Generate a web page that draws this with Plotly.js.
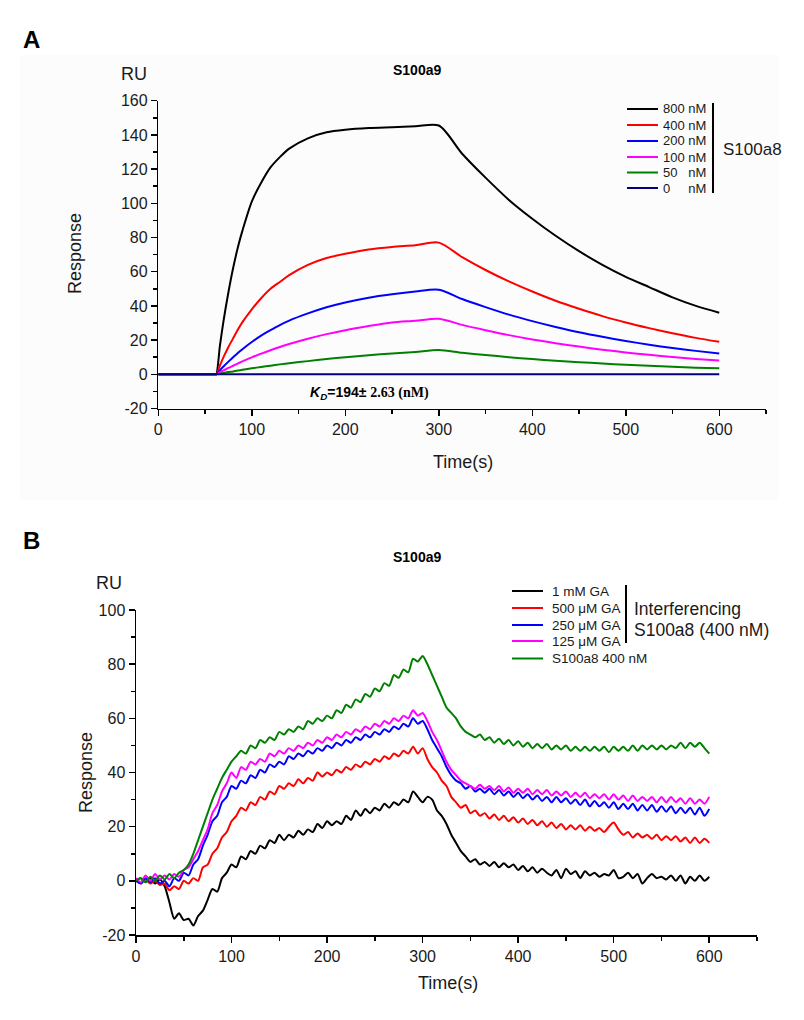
<!DOCTYPE html>
<html>
<head>
<meta charset="utf-8">
<script src="https://cdn.plot.ly/plotly-3.0.1.min.js"></script>
<style>
  body { margin:0; padding:0; background:#fff; }
  #plotDiv { width:804px; height:1020px; }
</style>
</head>
<body>
<div id="plotDiv"></div>
<script>
// ---- panel A : fitted SPR curves ----
var timeA = [0, 30, 61, 62, 66, 70, 75, 80, 85, 90, 100, 110, 120, 130, 140, 160, 180, 200, 225, 250, 275, 300,
             325, 350, 375, 400, 425, 450, 475, 500, 525, 550, 575, 600];
var a800 = [0, 0, 0, 0, 17, 32, 48, 62, 74, 84, 101, 112, 121, 127, 132, 138, 141.5, 143, 144, 144.5, 145, 145.5,
            129, 115, 102, 91, 81, 72, 64, 57, 51, 45, 40, 36];
var a400 = [0, 0, 0, 0, 5.3, 10.3, 16, 21, 26, 30.5, 38, 44.5, 50, 54, 58, 64, 68, 70.5, 73, 74.5, 75.5, 77,
            68.5, 61, 54.3, 48.4, 43, 38.3, 34, 30.3, 27, 24, 21.3, 19];
var a200 = [0, 0, 0, 0, 2.4, 4.7, 7.4, 10, 12.4, 14.7, 18.9, 22.6, 25.8, 28.8, 31.4, 35.6, 39.2, 42, 44.8, 46.8, 48.4, 49.5,
            44, 39.3, 34.9, 31.1, 27.7, 24.6, 21.9, 19.5, 17.3, 15.4, 13.7, 12.2];
var a100 = [0, 0, 0, 0, 1.2, 2.3, 3.7, 5, 6.3, 7.6, 9.9, 12.1, 14.1, 16, 17.7, 20.8, 23.5, 25.8, 28.2, 30.3, 31.3, 32.5,
            28.9, 25.8, 22.9, 20.4, 18.2, 16.2, 14.4, 12.8, 11.4, 10.1, 9, 8];
var a50 = [0, 0, 0, 0, 0.4, 0.8, 1.3, 1.7, 2.2, 2.6, 3.5, 4.3, 5, 5.8, 6.5, 7.7, 8.9, 10, 11.1, 12.2, 13.1, 14.2,
           12.6, 11.3, 10, 8.9, 7.9, 7.1, 6.3, 5.6, 5, 4.4, 3.9, 3.5];
var timeA0 = [0, 600];
var a0 = [0, 0];
var namesA = ['800 nM', '400 nM', '200 nM', '100 nM', '50\u00a0\u00a0\u00a0nM', '0\u00a0\u00a0\u00a0\u00a0\u00a0nM'];
var colorsA = ['#000000', '#ff0000', '#0000ff', '#ff00ff', '#008000', '#000080'];
var ticksA = [-20, 0, 20, 40, 60, 80, 100, 120, 140, 160];
var tickTextA = ['-20', '0', '20', '40', '60', '80', '100', '120', '140', '160'];

// ---- panel B : raw sensorgrams, one value every 5 s ----
var timeB = [0, 5, 10, 15, 20, 25, 30, 35, 40, 45, 50, 55, 60, 65, 70, 75, 80, 85, 90, 95,
             100, 105, 110, 115, 120, 125, 130, 135, 140, 145, 150, 155, 160, 165, 170, 175, 180, 185, 190, 195,
             200, 205, 210, 215, 220, 225, 230, 235, 240, 245, 250, 255, 260, 265, 270, 275, 280, 285, 290, 295,
             300, 305, 310, 315, 320, 325, 330, 335, 340, 345, 350, 355, 360, 365, 370, 375, 380, 385, 390, 395,
             400, 405, 410, 415, 420, 425, 430, 435, 440, 445, 450, 455, 460, 465, 470, 475, 480, 485, 490, 495,
             500, 505, 510, 515, 520, 525, 530, 535, 540, 545, 550, 555, 560, 565, 570, 575, 580, 585, 590, 595,
             600];
var ga1mM = [0, 1, -0.5, 1, -1, 0.5, -2, -8, -14, -12, -14.5, -14, -16.5, -13, -11, -7, -3, -4, 1, 3,
             6, 5, 9, 8, 11, 10, 13, 12, 15, 14, 17, 15, 17, 16, 18.5, 17, 19, 18, 21, 19.5,
             22, 20.5, 22, 21, 24, 22.5, 26, 24, 26.5, 25, 27, 26, 28.5, 27, 29, 28, 30, 29, 33, 31,
             29, 31, 30, 26, 24, 21, 17, 14, 11, 9, 7, 8, 6, 7, 5.5, 7, 5, 6.5, 5, 6,
             4, 5.5, 3.5, 5, 3, 4.5, 3, 2, 4, 1, 4.5, 2.5, 3.5, 1, 3.5, 2, 3, 1.5, 2.5, 2,
             4, 1, 1.5, 3, 1, 2.5, -1, 1, 2.5, 1, 1.5, 0.5, 2, 0, 2, -1, 1.5, 0, 2, 0,
             1.5];
var ga500 = [0, -1, 0.5, -1, 0, -1.5, -1, -3.5, -2, -3, 0, -1, 1, 0, 5, 6, 10, 12, 16, 18,
             22, 24, 27, 26, 29, 28, 31, 30, 33, 32, 35, 34, 36, 35, 37.5, 36, 38, 37, 40, 38.5,
             40, 39, 41, 40, 42, 41, 43, 42, 44, 43, 45, 44, 46, 45, 47, 46, 48, 47, 49.5, 47,
             49, 45, 42, 40, 37, 35, 31, 29, 27, 28, 25, 26, 24, 25, 23, 24.5, 22.5, 24, 22, 23.5,
             21.5, 23, 21, 22.5, 20.5, 22, 20, 21.5, 19.5, 21, 19, 20.5, 19, 20.5, 18.5, 20, 18.5, 19.5, 18, 20,
             21.5, 19, 17, 18, 16, 17.5, 16, 17, 15.5, 17, 15, 16.5, 15, 16.5, 14.5, 16, 14, 16, 14, 15.5,
             14];
var ga250 = [0, -1, 1, -0.5, 1, -1, 0, -2, 1, 0, 3, 2, 6, 8, 13, 17, 22, 24, 29, 31,
             35, 34, 37, 36, 39, 38, 41, 40, 43, 42, 44, 43, 46, 45, 47, 46, 48, 47, 49, 48,
             50, 49, 51, 50, 52, 51, 53, 52, 54, 53, 55, 54, 56, 55, 57, 56, 58, 57, 60, 58,
             59, 56, 52, 49, 46, 42, 39, 37, 36, 34, 35, 33, 34, 32.5, 34, 32, 33.5, 31.5, 33, 31,
             32.5, 30.5, 32, 30, 31.5, 29.5, 31, 29, 31, 29, 30.5, 28.5, 30, 28, 30, 27.5, 29.5, 27.5, 29, 27,
             29, 26.5, 28.5, 26.5, 28.5, 26, 28, 26, 28, 25.5, 27.5, 25.5, 27.5, 25, 27, 25, 27, 24.5, 27, 24,
             26.5];
var ga125 = [1, -0.5, 2, 0, 2.5, 0.5, 2, 0.5, 2.5, 1.5, 4, 5, 8, 11, 15, 19, 25, 28, 33, 36,
             40, 38, 42, 41, 44, 43, 45, 44, 47, 46, 48, 47, 49, 48, 50, 49, 51, 50, 52, 51,
             53, 52, 54, 53, 55, 54, 56, 55, 57, 56, 58, 57, 59, 58, 60, 59, 61, 60, 63, 61,
             62, 59, 55, 52, 48, 44, 41, 39, 37, 36, 35, 34, 35.5, 34, 35, 33.5, 35, 33, 34.5, 32.5,
             34, 32.5, 34, 32, 33.5, 32, 33.5, 31.5, 33, 31.5, 33, 31, 32.5, 31, 32.5, 30.5, 32, 30.5, 32, 30,
             32, 30, 31.5, 29.5, 31.5, 29.5, 31, 29.5, 31, 29, 31, 29, 31, 29, 30.5, 28.5, 30.5, 28.5, 30, 28.5,
             31];
var s400 = [0, 1, -0.5, 1.5, 0, 2, 0.5, 2.5, 1, 3, 4, 6, 10, 15, 20, 25, 30, 34, 38, 41,
            44, 46, 48, 47, 50, 49, 52, 51, 53, 52, 55, 54, 56, 55, 57, 56, 59, 58, 60, 59,
            61, 60, 63, 62, 65, 64, 67, 66, 69, 68, 71, 70, 73, 72, 76, 75, 78, 77, 82, 81,
            83, 80, 76, 72, 68, 64, 62, 60, 57, 55, 54, 53, 54, 52, 53, 51, 52.5, 50.5, 52, 50,
            51.5, 49.5, 51, 49, 50.5, 49, 50.5, 48.5, 50, 48.5, 50, 48, 49.5, 48, 49.5, 48, 49.5, 48, 49.5, 47.5,
            49.5, 48, 49.5, 48, 50, 48, 50, 48.5, 50, 48.5, 50, 48.5, 50, 49, 51, 49, 51, 49.5, 51, 49,
            47];
var namesB = ['1 mM GA', '500 \u03bcM GA', '250 \u03bcM GA', '125 \u03bcM GA', 'S100a8 400 nM'];
var colorsB = ['#000000', '#ff0000', '#0000ff', '#ff00ff', '#008000'];
var ticksB = [-20, 0, 20, 40, 60, 80, 100];
var tickTextB = ['-20', '0', '20', '40', '60', '80', '100'];

var W = 804, H = 1020;
function px(x){ return x / W; }
function py(y){ return 1 - y / H; }

function makePlot(){
  var fA = 'Arial, Liberation Sans, sans-serif';
  var data = [];
  var shapes = [];
  var ann = [];

  var seriesA = [a800, a400, a200, a100, a50];
  for (var i = 0; i < seriesA.length; i++){
    data.push({
      x: timeA, y: seriesA[i], name: namesA[i], type: 'scatter', mode: 'lines',
      line: {color: colorsA[i], width: 2, shape: 'spline', smoothing: 0.8}, xaxis: 'x', yaxis: 'y'
    });
  }
  data.push({
    x: timeA0, y: a0, name: namesA[5], type: 'scatter', mode: 'lines',
    line: {color: colorsA[5], width: 2}, xaxis: 'x', yaxis: 'y'
  });

  var seriesB = [ga1mM, ga500, ga250, ga125, s400];
  for (var j = 0; j < seriesB.length; j++){
    data.push({
      x: timeB, y: seriesB[j], name: namesB[j], type: 'scatter', mode: 'lines',
      line: {color: colorsB[j], width: 2, shape: 'spline', smoothing: 0.7}, xaxis: 'x2', yaxis: 'y2'
    });
  }

  // hand-placed legends, same layout as the figure (sample line + label, bar, group label)
  var legA = [109, 125, 141, 157, 172.5, 188];
  for (var k = 0; k < namesA.length; k++){
    shapes.push({type: 'line', xref: 'paper', yref: 'paper', x0: px(627), x1: px(658), y0: py(legA[k]), y1: py(legA[k]),
                 line: {color: colorsA[k], width: 2}});
    ann.push({text: namesA[k], x: px(661), y: py(legA[k]), xanchor: 'left', font: {size: 13, family: fA, color: '#1a1a1a'}});
  }
  var legB = [591, 608, 625, 641, 658.5];
  for (var m = 0; m < namesB.length; m++){
    shapes.push({type: 'line', xref: 'paper', yref: 'paper', x0: px(512), x1: px(543), y0: py(legB[m]), y1: py(legB[m]),
                 line: {color: colorsB[m], width: 2}});
    ann.push({text: namesB[m], x: px(550), y: py(legB[m]), xanchor: 'left', font: {size: 13.5, family: fA, color: '#1a1a1a'}});
  }

  ann = ann.concat([
    {text: '<b>A</b>', x: px(31), y: py(40), font: {size: 24, family: fA, color: '#000'}},
    {text: '<b>S100a9</b>', x: px(417), y: py(70), font: {size: 14, family: fA, color: '#000'}},
    {text: 'RU', x: px(134), y: py(74), font: {size: 18, family: fA, color: '#1a1a1a'}},
    {text: 'Response', x: px(75), y: py(254), textangle: -90, font: {size: 18, family: fA, color: '#1a1a1a'}},
    {text: 'Time(s)', x: px(463), y: py(462), font: {size: 18, family: fA, color: '#1a1a1a'}},
    {text: 'S100a8', x: px(721), y: py(149), xanchor: 'left', font: {size: 17, family: fA, color: '#1a1a1a'}},
    {text: '<b><i>K<sub>D</sub></i>=194\u00b1 <span style="font-family:Liberation Serif, Times New Roman, serif">2.63 (nM)</span></b>',
     xref: 'x', yref: 'y', x: 226, y: -10.9, font: {size: 14, family: fA, color: '#000'}},

    {text: '<b>B</b>', x: px(31), y: py(540), font: {size: 24, family: fA, color: '#000'}},
    {text: '<b>S100a9</b>', x: px(417), y: py(557), font: {size: 14, family: fA, color: '#000'}},
    {text: 'RU', x: px(109), y: py(583), font: {size: 18, family: fA, color: '#1a1a1a'}},
    {text: 'Response', x: px(86), y: py(773), textangle: -90, font: {size: 18, family: fA, color: '#1a1a1a'}},
    {text: 'Time(s)', x: px(448), y: py(983), font: {size: 18, family: fA, color: '#1a1a1a'}},
    {text: 'Interferencing', x: px(632), y: py(609), xanchor: 'left', font: {size: 17.5, family: fA, color: '#1a1a1a'}},
    {text: 'S100a8 (400 nM)', x: px(632), y: py(630), xanchor: 'left', font: {size: 17.5, family: fA, color: '#1a1a1a'}}
  ]);
  for (var n = 0; n < ann.length; n++){
    if (!ann[n].xref) { ann[n].xref = 'paper'; ann[n].yref = 'paper'; }
    if (!ann[n].xanchor) ann[n].xanchor = 'center';
    ann[n].yanchor = 'middle';
    ann[n].showarrow = false;
  }

  shapes.unshift({type: 'rect', xref: 'paper', yref: 'paper', x0: px(20), x1: px(778), y0: py(500), y1: py(55),
                  fillcolor: '#fcfcfc', line: {width: 0}, layer: 'below'});
  shapes.push({type: 'line', xref: 'paper', yref: 'paper', x0: px(713), x1: px(713), y0: py(103), y1: py(193),
               line: {color: '#000', width: 2}});
  shapes.push({type: 'line', xref: 'paper', yref: 'paper', x0: px(626), x1: px(626), y0: py(585), y1: py(643),
               line: {color: '#000', width: 2}});

  var tickFont = {family: fA, size: 16, color: '#1a1a1a'};
  function axis(extra){
    var a = {
      showline: true, linecolor: '#000', linewidth: 1.5, mirror: false,
      ticks: 'outside', ticklen: 6, tickwidth: 1.5, tickcolor: '#000',
      showgrid: false, zeroline: false, tickfont: tickFont, fixedrange: true
    };
    for (var k in extra) a[k] = extra[k];
    return a;
  }
  function minor(d){
    return {ticks: 'outside', ticklen: 4, tickwidth: 1.5, tickcolor: '#000', dtick: d, tick0: 0, showgrid: false};
  }

  var layout = {
    width: W, height: H,
    margin: {l: 0, r: 0, t: 0, b: 0},
    paper_bgcolor: '#ffffff', plot_bgcolor: 'rgba(0,0,0,0)',
    showlegend: false,
    font: {family: fA},
    xaxis: axis({domain: [px(158.3), px(766)], range: [0, 650], tickvals: [0, 100, 200, 300, 400, 500, 600],
                 anchor: 'y', minor: minor(50)}),
    yaxis: axis({domain: [py(408.5), py(100.7)], range: [-20, 160], tickvals: ticksA, ticktext: tickTextA,
                 anchor: 'x', minor: minor(10)}),
    xaxis2: axis({domain: [px(136), px(757)], range: [0, 650], tickvals: [0, 100, 200, 300, 400, 500, 600],
                  anchor: 'y2', minor: minor(50)}),
    yaxis2: axis({domain: [py(935), py(610)], range: [-20, 100], tickvals: ticksB, ticktext: tickTextB,
                  anchor: 'x2', minor: minor(10)}),
    shapes: shapes,
    annotations: ann
  };

  Plotly.newPlot('plotDiv', data, layout, {displayModeBar: false, staticPlot: true});
}

makePlot();
</script>
</body>
</html>
